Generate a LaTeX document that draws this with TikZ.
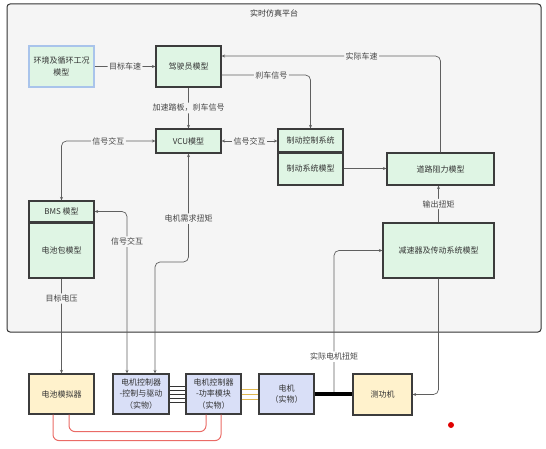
\documentclass[tikz,border=0pt]{standalone}
\usepackage{fontspec}
\setmainfont{Noto Sans CJK SC}
\usetikzlibrary{arrows.meta}
\definecolor{platgray}{HTML}{F5F5F5}
\definecolor{framegray}{HTML}{333333}
\definecolor{boxline}{HTML}{3C3C3C}
\definecolor{modelgreen}{HTML}{DFF5E4}
\definecolor{envblue}{HTML}{A9C4EB}
\definecolor{simyellow}{HTML}{FFF2CC}
\definecolor{hwblue}{HTML}{D9DFF7}
\definecolor{linegray}{HTML}{5F5F5F}
\definecolor{txtgray}{HTML}{333333}
\definecolor{lblgray}{HTML}{444444}
\definecolor{phasegold}{HTML}{E0B84F}
\definecolor{wirered}{HTML}{EA6B66}
\definecolor{dotred}{HTML}{E00000}
\begin{document}
\begin{tikzpicture}[x=1pt, y=-1pt,
        every node/.style={font=\fontsize{8}{11.5}\selectfont, text=txtgray},
        model/.style={draw=boxline, line width=1.2pt, fill=modelgreen, inner sep=0pt, align=center},
        hw/.style={draw=boxline, line width=1.2pt, inner sep=0pt, align=center},
        conn/.style={draw=linegray, line width=0.7pt, rounded corners=5pt, >={Stealth[length=3.5pt,width=3pt]}},
        lbl/.style={fill=platgray, inner sep=1.5pt, text=lblgray}]
            \useasboundingbox (0,0) rectangle (546,449);
            \draw[draw=framegray, line width=1pt, fill=platgray, rounded corners=3pt] (7,4) rectangle (541,332);
            \node (title) at (274,13) {实时仿真平台};
            % models
            \node[model, draw=envblue, minimum width=65, minimum height=41] (env) at (61.5,66.5) {环境及循环工况\\模型};
            \node[model, minimum width=65, minimum height=41] (driver) at (188.5,66.5) {驾驶员模型};
            \node[model, minimum width=65, minimum height=24] (vcu) at (188.5,141) {VCU模型};
            \node[model, minimum width=65, minimum height=23] (brakectl) at (310.5,140.5) {制动控制系统};
            \node[model, minimum width=65, minimum height=33] (brakesys) at (310.5,168.5) {制动系统模型};
            \node[model, minimum width=107, minimum height=32] (road) at (440.5,169) {道路阻力模型};
            \node[model, minimum width=111, minimum height=55] (gear) at (438.5,250.5) {减速器及传动系统模型};
            \node[model, minimum width=65, minimum height=21] (bms) at (61.5,211.5) {BMS 模型};
            \node[model, minimum width=65, minimum height=56] (pack) at (61.5,250) {电池包模型};
            \draw[draw=boxline, line width=2pt] (bms.south west) -- (bms.south east);
            \draw[draw=boxline, line width=2pt] (brakectl.south west) -- (brakectl.south east);
            % hardware
            \node[hw, fill=simyellow, minimum width=65, minimum height=40] (batsim) at (61.5,394) {电池模拟器};
            \node[hw, fill=hwblue, minimum width=56, minimum height=40] (mcuctl) at (141,394) {电机控制器\\-控制与驱动\\（实物）};
            \node[hw, fill=hwblue, minimum width=55, minimum height=40] (mcupwr) at (213.5,394) {电机控制器\\-功率模块\\（实物）};
            \node[hw, fill=hwblue, minimum width=55, minimum height=40] (motor) at (286.5,394) {电机\\（实物）};
            \node[hw, fill=simyellow, minimum width=59, minimum height=41] (dyno) at (382.5,394.5) {测功机};
            \coordinate (mtq) at (155,262);
            \coordinate (shaft) at (334,394);
            % signals
            \draw[conn,->] (env) -- node[lbl]{目标车速} (driver);
            \draw[conn,->] (driver) -- node[lbl]{加速踏板，刹车信号} (vcu);
            \draw[conn,->] ([yshift=-8.5]driver.east) -| node[lbl,pos=0.28]{刹车信号} (brakectl);
            \draw[conn,->] (road) |- node[lbl,pos=0.68]{实际车速} ([yshift=10.5]driver.east);
            \draw[conn,<->] (vcu.east) -- node[lbl]{信号交互} (vcu.east -| brakectl.west);
            \draw[conn,->] (brakesys.east) -- (brakesys.east -| road.west);
            \draw[conn,->] (gear.north) -- node[lbl]{输出扭矩} (gear.north |- road.south);
            \draw[conn,<->] (vcu) -| node[lbl,pos=0.25]{信号交互} (bms);
            \draw[conn,<->] (bms) -| node[lbl,pos=0.593]{信号交互} ([xshift=-14]mcuctl.north);
            \draw[conn,<->] (vcu) |- node[lbl,pos=0.3]{电机需求扭矩} (mtq) -- ([xshift=14]mcuctl.north);
            \draw[conn,->] (pack) -- node[lbl,pos=0.21]{目标电压} (batsim);
            \draw[conn,->] (shaft) |- node[lbl,fill=white,pos=0.13]{实际电机扭矩} (gear);
            \draw[conn,->] (gear) |- (dyno);
            % wiring
            \foreach \dy in {-8,-4,...,8} {
                \draw[line width=0.8pt, draw=black!80] ([yshift=\dy]mcuctl.east) -- ([yshift=\dy]mcupwr.west);
            }
            \foreach \dy in {-5,0,5} {
                \draw[line width=0.9pt, draw=phasegold] ([yshift=\dy]mcupwr.east) -- ([yshift=\dy]motor.west);
            }
            \draw[line width=4pt] (motor.east) -- (motor.east -| dyno.west);
            \draw[draw=wirered, line width=1pt, rounded corners=6pt] ([xshift=-8.5]batsim.south) -- ++(0,26) -| ([xshift=7.5]mcupwr.south);
            \draw[draw=wirered, line width=1pt, rounded corners=6pt] ([xshift=7.5]batsim.south) -- ++(0,17) -| ([xshift=-7.5]mcupwr.south);
            \fill[dotred] (451,425) circle (3);
        \end{tikzpicture}
\end{document}
